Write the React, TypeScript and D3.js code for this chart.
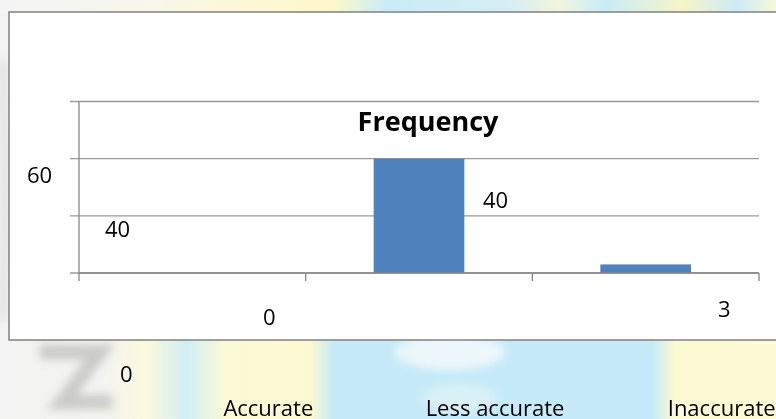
import React from "react";
import * as d3 from "d3";

const categories = ["Accurate", "Less accurate", "Inaccurate"];
const frequency = [0, 40, 3];
const yTicks = [0, 20, 40, 60];
const chartTitle = "Frequency";
// stray data labels as they appear in the picture
const strayLabels = ["60", "40", "40", "0", "3", "0"];

const W = 776;
const H = 419;
const FONT = "'Open Sans', Lato, sans-serif";

export default function App() {
  const y = d3.scaleLinear().domain([0, 60]).range([273, 101.5]);
  const x = d3.scaleBand<string>().domain(categories).range([79, 759]).padding(0);
  const bw = x.bandwidth();
  const grid = "#9a9a9a";
  const axis = "#878787";

  const strayPos: [number, number][] = [
    [27, 183],
    [105, 237],
    [483, 208],
    [263, 325],
    [718, 317],
    [120, 382],
  ];

  return (
    <svg
      width={W}
      height={H}
      style={{ position: "absolute", left: 0, top: 0 }}
      fontFamily={FONT}
    >
      <defs>
        <linearGradient id="bgTop" x1="0" x2="1" y1="0" y2="0">
          <stop offset="0" stopColor="#f4f4f4" />
          <stop offset="0.17" stopColor="#f6f6ee" />
          <stop offset="0.3" stopColor="#fbf8d8" />
          <stop offset="0.43" stopColor="#fcf7c8" />
          <stop offset="0.5" stopColor="#c9ecf8" />
          <stop offset="0.66" stopColor="#d6eef4" />
          <stop offset="0.72" stopColor="#f3f5dc" />
          <stop offset="0.78" stopColor="#c9ecf8" />
          <stop offset="0.88" stopColor="#f7f4c8" />
          <stop offset="0.95" stopColor="#cdebf6" />
          <stop offset="1" stopColor="#f6f8d8" />
        </linearGradient>
        <linearGradient id="bgBot" x1="0" x2="1" y1="0" y2="0">
          <stop offset="0" stopColor="#f3f3f3" />
          <stop offset="0.14" stopColor="#f4f4f0" />
          <stop offset="0.19" stopColor="#fbf9dc" />
          <stop offset="0.24" stopColor="#d2eef5" />
          <stop offset="0.29" stopColor="#fbf9d6" />
          <stop offset="0.4" stopColor="#fcf9d2" />
          <stop offset="0.43" stopColor="#c6eaf8" />
          <stop offset="0.84" stopColor="#c6eaf8" />
          <stop offset="0.87" stopColor="#fcfad2" />
          <stop offset="1" stopColor="#fdfbd6" />
        </linearGradient>
        <filter id="blur" x="-20%" y="-20%" width="140%" height="140%">
          <feGaussianBlur stdDeviation="4" />
        </filter>
      </defs>

      {/* page background with watermark */}
      <rect x={0} y={0} width={W} height={H} fill="url(#bgBot)" />
      <rect x={0} y={0} width={W} height={14} fill="url(#bgTop)" />
      <g filter="url(#blur)">
        <ellipse cx={450} cy={352} rx={55} ry={18} fill="#f6fafb" opacity={0.8} />
        <ellipse cx={460} cy={398} rx={38} ry={14} fill="#e6f4f4" opacity={0.6} />
        <path
          d="M40,352 L100,352 L62,402 L112,402"
          fill="none"
          stroke="#c4c4c4"
          strokeWidth={15}
          opacity={0.85}
        />
        <path d="M3,60 L5,200 L3,320" fill="none" stroke="#dddddd" strokeWidth={6} />
      </g>

      {/* chart box */}
      <rect x={9} y={12} width={W} height={328} fill="#ffffff" stroke="#888888" strokeWidth={1.6} />

      {/* gridlines */}
      {yTicks.map((t) => (
        <line key={t} x1={70} x2={759} y1={y(t)} y2={y(t)} stroke={grid} strokeWidth={1.3} />
      ))}

      {/* y axis */}
      <line x1={79} x2={79} y1={y(60)} y2={y(0)} stroke={axis} strokeWidth={1.3} />

      {/* bars */}
      {categories.map((c, i) => (
        <rect
          key={c}
          x={(x(c) as number) + bw * 0.3}
          y={y(frequency[i])}
          width={bw * 0.4}
          height={y(0) - y(frequency[i])}
          fill="#4f81bd"
        />
      ))}

      {/* x axis */}
      <line x1={79} x2={759} y1={y(0)} y2={y(0)} stroke={axis} strokeWidth={1.3} />
      {[...categories.map((c) => x(c) as number), 759].map((tx, i) => (
        <line key={i} x1={tx} x2={tx} y1={y(0)} y2={y(0) + 8} stroke={axis} strokeWidth={1.3} />
      ))}

      {/* title */}
      <text x={428} y={131} textAnchor="middle" fontWeight="bold" fontSize={27} fill="#000">
        {chartTitle}
      </text>

      {/* stray labels */}
      {strayLabels.map((s, i) => (
        <text key={i} x={strayPos[i][0]} y={strayPos[i][1]} fontSize={22} fill="#000">
          {s}
        </text>
      ))}

      {/* category labels */}
      {categories.map((c) => (
        <text
          key={c}
          x={(x(c) as number) + bw / 2 + 76}
          y={416}
          textAnchor="middle"
          fontSize={22}
          fill="#000"
        >
          {c}
        </text>
      ))}
    </svg>
  );
}
